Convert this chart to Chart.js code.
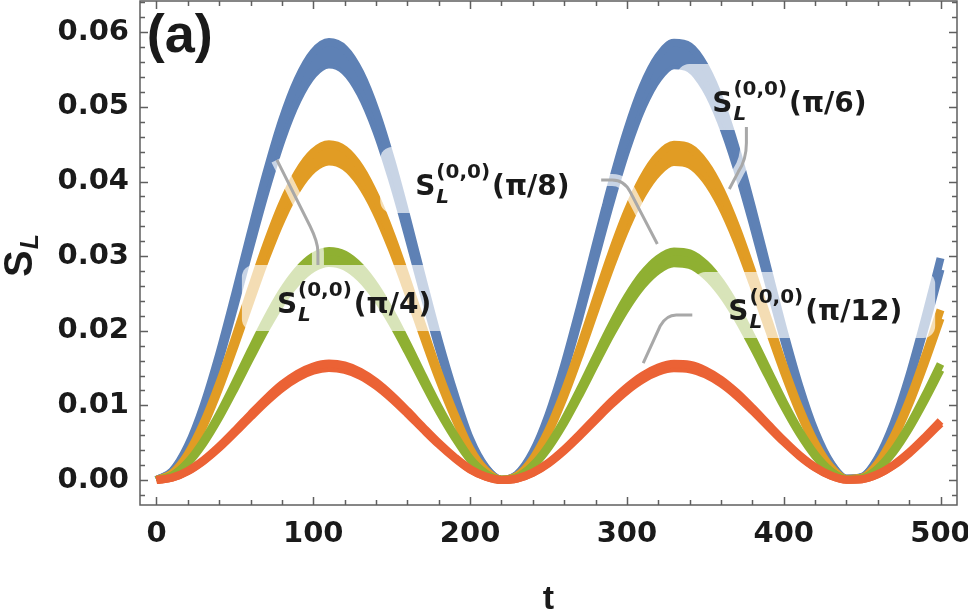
<!DOCTYPE html>
<html><head><meta charset="utf-8">
<script src="https://cdn.jsdelivr.net/npm/chart.js@4.4.0/dist/chart.umd.min.js"></script>
<style>html,body{margin:0;padding:0;background:#fff;}#wrap{width:968px;height:611px;}</style>
</head><body><div id="wrap"><canvas id="c" width="968" height="611"></canvas></div>
<script>
// ---- data ----
const tValues = [0,10,20,30,40,50,60,70,80,90,100,110,120,130,140,150,160,170,180,190,200,210,220,230,240,250,260,270,280,290,300,310,320,330,340,350,360,370,380,390,400,410,420,430,440,450,460,470,480,490,500];
const blueUpper = [0,0.00117,0.00458,0.00996,0.01688,0.02480,0.03307,0.04106,0.04815,0.05366,0.05729,0.05869,0.05776,0.05457,0.04939,0.04263,0.03484,0.02664,0.01870,0.01160,0.00551,0.00168,0.00005,0.00075,0.00373,0.00874,0.01540,0.02316,0.03142,0.03951,0.04678,0.05269,0.05674,0.05859,0.05812,0.05535,0.05058,0.04409,0.03636,0.02812,0.01997,0.01258,0.00652,0.00228,0.00019,0.00042,0.00295,0.00759,0.01395,0.02154,0.02974];
const blueLower = [0,0.00111,0.00434,0.00945,0.01602,0.02353,0.03138,0.03896,0.04569,0.05092,0.05436,0.05569,0.05481,0.05178,0.04687,0.04045,0.03306,0.02528,0.01774,0.01101,0.00523,0.00159,0.00004,0.00071,0.00354,0.00829,0.01461,0.02198,0.02982,0.03749,0.04439,0.05000,0.05384,0.05560,0.05515,0.05253,0.04800,0.04184,0.03451,0.02668,0.01895,0.01194,0.00619,0.00216,0.00018,0.00040,0.00280,0.00720,0.01324,0.02044,0.02822];
const orangeUpper = [0,0.00090,0.00351,0.00764,0.01294,0.01901,0.02535,0.03148,0.03691,0.04114,0.04392,0.04499,0.04428,0.04184,0.03786,0.03268,0.02671,0.02043,0.01433,0.00889,0.00423,0.00129,0.00004,0.00058,0.00286,0.00670,0.01180,0.01776,0.02409,0.03029,0.03587,0.04039,0.04350,0.04492,0.04455,0.04244,0.03878,0.03380,0.02788,0.02156,0.01531,0.00964,0.00500,0.00175,0.00014,0.00032,0.00226,0.00582,0.01070,0.01652,0.02280];
const orangeLower = [0,0.00085,0.00333,0.00724,0.01228,0.01804,0.02405,0.02987,0.03502,0.03904,0.04167,0.04269,0.04202,0.03970,0.03593,0.03101,0.02534,0.01938,0.01360,0.00844,0.00401,0.00122,0.00003,0.00055,0.00271,0.00636,0.01120,0.01685,0.02286,0.02874,0.03403,0.03833,0.04127,0.04262,0.04228,0.04027,0.03679,0.03207,0.02645,0.02045,0.01453,0.00915,0.00474,0.00166,0.00014,0.00031,0.00215,0.00552,0.01015,0.01567,0.02164];
const greenUpper = [0,0.00061,0.00239,0.00521,0.00883,0.01297,0.01729,0.02147,0.02518,0.02807,0.02996,0.03069,0.03021,0.02854,0.02583,0.02229,0.01822,0.01393,0.00978,0.00607,0.00288,0.00088,0.00002,0.00039,0.00195,0.00457,0.00805,0.01211,0.01643,0.02066,0.02447,0.02756,0.02967,0.03064,0.03040,0.02895,0.02645,0.02306,0.01902,0.01471,0.01044,0.00658,0.00341,0.00119,0.00010,0.00022,0.00154,0.00397,0.00730,0.01127,0.01556];
const greenLower = [0,0.00058,0.00227,0.00494,0.00837,0.01229,0.01639,0.02036,0.02387,0.02660,0.02840,0.02909,0.02863,0.02705,0.02449,0.02113,0.01727,0.01321,0.00927,0.00575,0.00273,0.00083,0.00002,0.00037,0.00185,0.00433,0.00763,0.01148,0.01558,0.01959,0.02319,0.02612,0.02813,0.02905,0.02881,0.02744,0.02508,0.02186,0.01803,0.01394,0.00990,0.00624,0.00323,0.00113,0.00009,0.00021,0.00146,0.00376,0.00692,0.01068,0.01474];
const redUpper = [0,0.00031,0.00122,0.00265,0.00449,0.00659,0.00879,0.01091,0.01280,0.01426,0.01522,0.01560,0.01535,0.01450,0.01313,0.01133,0.00926,0.00708,0.00497,0.00308,0.00146,0.00045,0.00001,0.00020,0.00099,0.00232,0.00409,0.00616,0.00835,0.01050,0.01243,0.01400,0.01508,0.01557,0.01545,0.01471,0.01344,0.01172,0.00966,0.00747,0.00531,0.00334,0.00173,0.00061,0.00005,0.00011,0.00078,0.00202,0.00371,0.00573,0.00790];
const redLower = [0,0.00030,0.00117,0.00255,0.00431,0.00634,0.00845,0.01049,0.01230,0.01371,0.01464,0.01500,0.01476,0.01395,0.01262,0.01089,0.00890,0.00681,0.00478,0.00296,0.00141,0.00043,0.00001,0.00019,0.00095,0.00223,0.00393,0.00592,0.00803,0.01010,0.01196,0.01346,0.01450,0.01497,0.01485,0.01415,0.01293,0.01127,0.00929,0.00719,0.00510,0.00321,0.00167,0.00058,0.00005,0.00011,0.00075,0.00194,0.00357,0.00551,0.00760];
const seriesAngles = ['(π/6)','(π/8)','(π/4)','(π/12)'];
const xTickValues = [0,100,200,300,400,500];
const xTickLabels = ['0','100','200','300','400','500'];
const yTickValues = [0,0.01,0.02,0.03,0.04,0.05,0.06];
const yTickLabels = ['0.00','0.01','0.02','0.03','0.04','0.05','0.06'];
const xAxisTitle = 't';
const panelLabel = '(a)';

// ---- styling / layout ----
const COLORS = {blue:'#5E81B5', orange:'#E19C24', green:'#8FB032', red:'#EB6235'};
const pts = arr => arr.map((v,i)=>({x:tValues[i], y:v}));
function band(up, low, color){
  const base = {borderColor:color, backgroundColor:color, borderWidth:8, pointRadius:0, cubicInterpolationMode:'monotone', borderJoinStyle:'round', borderCapStyle:'butt'};
  return [Object.assign({data:pts(up), fill:'+1'}, base), Object.assign({data:pts(low), fill:false}, base)];
}
const datasets = [].concat(
  band(redUpper, redLower, COLORS.red),
  band(greenUpper, greenLower, COLORS.green),
  band(orangeUpper, orangeLower, COLORS.orange),
  band(blueUpper, blueLower, COLORS.blue)
);

// callout anchors (data coordinates)
const callouts = [
  {rest:seriesAngles[0], t:354.4, v:0.04933, lead:[[376.2,0.04732],[376.2,0.04517],['q',376.2,0.04290,371.0,0.04129],[365.3,0.03901]]},
  {rest:seriesAngles[1], t:165.0, v:0.03820, lead:[[283.6,0.04021],[290.6,0.04021],['q',298.3,0.04021,302.1,0.03861],[319.4,0.03164]]},
  {rest:seriesAngles[2], t:76.8, v:0.02239, lead:[[76.8,0.04290],[97.9,0.03405],['q',102.96,0.03190,102.96,0.03056],[102.96,0.02882]]},
  {rest:seriesAngles[3], t:364.7, v:0.02145, lead:[[341.7,0.02212],[331.5,0.02212],['q',325.1,0.02212,321.2,0.02064],[310.4,0.01568]]}
];
const MAIN = 'bold 28px "DejaVu Sans"';
const SMALL = 'bold 20px "DejaVu Sans"';
const SUBF = 'italic bold 20px "DejaVu Sans"';
const TEXT = '#1a1a1a';
const AXISC = '#5f5f5f';

function leaderPath(c, X, Y, lead){
  c.beginPath();
  lead.forEach((p,i)=>{
    if (p[0]==='q') c.quadraticCurveTo(X(p[1]),Y(p[2]),X(p[3]),Y(p[4]));
    else if (i===0) c.moveTo(X(p[0]),Y(p[1]));
    else c.lineTo(X(p[0]),Y(p[1]));
  });
}
function layoutLabel(c, co, X, Y){
  const px = X(co.t), py = Y(co.v);
  c.font = MAIN; const wS = c.measureText('S').width;
  c.font = SMALL; const wSup = c.measureText('(0,0)').width;
  c.font = SUBF; const wSub = c.measureText('L').width;
  c.font = MAIN; const wR = c.measureText(co.rest).width;
  const x1 = px + wS + 1, x2 = x1 + Math.max(wSup, wSub) + 2;
  return {px, py, x1, x2, right: x2 + wR};
}

const calloutPlugin = {
  id:'callouts',
  afterDatasetsDraw(chart){
    const {ctx, chartArea:a, scales} = chart;
    const X = v=>scales.x.getPixelForValue(v), Y = v=>scales.y.getPixelForValue(v);
    // translucent white backgrounds (union) behind labels and leaders
    const off = document.createElement('canvas');
    off.width = chart.width; off.height = chart.height;
    const o = off.getContext('2d');
    o.fillStyle = '#fff'; o.strokeStyle = '#fff';
    callouts.forEach(co=>{
      const L = layoutLabel(o, co, X, Y);
      o.beginPath();
      o.roundRect(L.px-35, L.py-48, (L.right+33)-(L.px-35), 66, 12);
      o.fill();
      leaderPath(o, X, Y, co.lead);
      o.lineWidth = 12; o.lineCap = 'butt'; o.lineJoin='round'; o.stroke();
    });
    ctx.save();
    ctx.beginPath(); ctx.rect(a.left, a.top, a.right-a.left, a.bottom-a.top); ctx.clip();
    ctx.globalAlpha = 0.66;
    ctx.drawImage(off, 0, 0, chart.width, chart.height);
    ctx.globalAlpha = 1;
    // leader lines
    callouts.forEach(co=>{
      leaderPath(ctx, X, Y, co.lead);
      ctx.strokeStyle = '#a8a8a8'; ctx.lineWidth = 3; ctx.lineCap='butt'; ctx.stroke();
    });
    ctx.restore();
    // label text
    ctx.save();
    ctx.fillStyle = TEXT; ctx.textBaseline = 'alphabetic'; ctx.textAlign = 'left';
    callouts.forEach(co=>{
      const L = layoutLabel(ctx, co, X, Y);
      ctx.font = MAIN; ctx.fillText('S', L.px, L.py);
      ctx.font = SMALL; ctx.fillText('(0,0)', L.x1, L.py-17);
      ctx.font = SUBF; ctx.fillText('L', L.x1, L.py+8);
      ctx.font = MAIN; ctx.fillText(co.rest, L.x2, L.py);
    });
    // panel label
    ctx.font = 'bold 54px "Liberation Sans"';
    ctx.fillText(panelLabel, X(-6.2), Y(0.05737));
    ctx.restore();
  },
  afterDraw(chart){
    const {ctx, chartArea:a, scales} = chart;
    const X = v=>scales.x.getPixelForValue(v), Y = v=>scales.y.getPixelForValue(v);
    ctx.save();
    ctx.strokeStyle = AXISC; ctx.lineWidth = 1.5;
    ctx.strokeRect(a.left, a.top, a.right-a.left, a.bottom-a.top);
    ctx.beginPath();
    for (let t=0; t<=500; t+=20){
      const len = (t%100===0)?8:5, px = Math.round(X(t))+0.5;
      ctx.moveTo(px, a.bottom); ctx.lineTo(px, a.bottom-len);
      ctx.moveTo(px, a.top); ctx.lineTo(px, a.top+len);
    }
    for (let k=-1; k<=32; k++){
      const v = k*0.002; if (v < scales.y.min || v > scales.y.max) continue;
      const len = (k%5===0)?8:5, py = Math.round(Y(v))+0.5;
      ctx.moveTo(a.left, py); ctx.lineTo(a.left+len, py);
      ctx.moveTo(a.right, py); ctx.lineTo(a.right-len, py);
    }
    ctx.stroke();
    // axis titles
    ctx.fillStyle = TEXT;
    ctx.font = 'bold 34px "Liberation Sans"'; ctx.textAlign='center'; ctx.textBaseline='alphabetic';
    ctx.fillText(xAxisTitle, (a.left+a.right)/2, chart.height-2);
    ctx.translate(32, 277); ctx.rotate(-Math.PI/2);
    ctx.textAlign='left';
    ctx.font = 'bold 40px "Liberation Sans"'; ctx.fillText('S', 0, 0);
    const w = ctx.measureText('S').width;
    ctx.font = 'italic bold 25px "Liberation Sans"'; ctx.fillText('L', w+1, 6);
    ctx.restore();
  }
};

new Chart(document.getElementById('c'), {
  type:'line',
  data:{datasets},
  options:{
    responsive:false, animation:false, events:[],
    layout:{padding:{left:0, right:11, top:1, bottom:0}},
    plugins:{legend:{display:false}, tooltip:{enabled:false}, filler:{drawTime:'beforeDatasetDraw'}},
    scales:{
      x:{type:'linear', min:-10.5, max:510.5,
        grid:{display:false, drawTicks:false}, border:{display:false},
        afterBuildTicks: s=>{ s.ticks = xTickValues.map(v=>({value:v})); },
        afterFit: s=>{ s.height = 106; s.paddingLeft=0; s.paddingRight=0; },
        ticks:{padding:12, maxRotation:0, autoSkip:false, color:TEXT, font:{family:'DejaVu Sans', weight:'bold', size:29},
          callback:(v)=>{ const i = xTickValues.indexOf(v); return i>=0 ? xTickLabels[i] : ''; }}
      },
      y:{type:'linear', min:-0.00335, max:0.0642,
        grid:{display:false, drawTicks:false}, border:{display:false},
        afterBuildTicks: s=>{ s.ticks = yTickValues.map(v=>({value:v})); },
        afterFit: s=>{ s.width = 140; s.paddingTop=0; s.paddingBottom=0; },
        ticks:{padding:11, autoSkip:false, color:TEXT, font:{family:'DejaVu Sans', weight:'bold', size:29},
          callback:(v)=>{ const i = yTickValues.findIndex(q=>Math.abs(q-v)<1e-9); return i>=0 ? yTickLabels[i] : ''; }}
      }
    }
  },
  plugins:[calloutPlugin]
});
</script></body></html>
